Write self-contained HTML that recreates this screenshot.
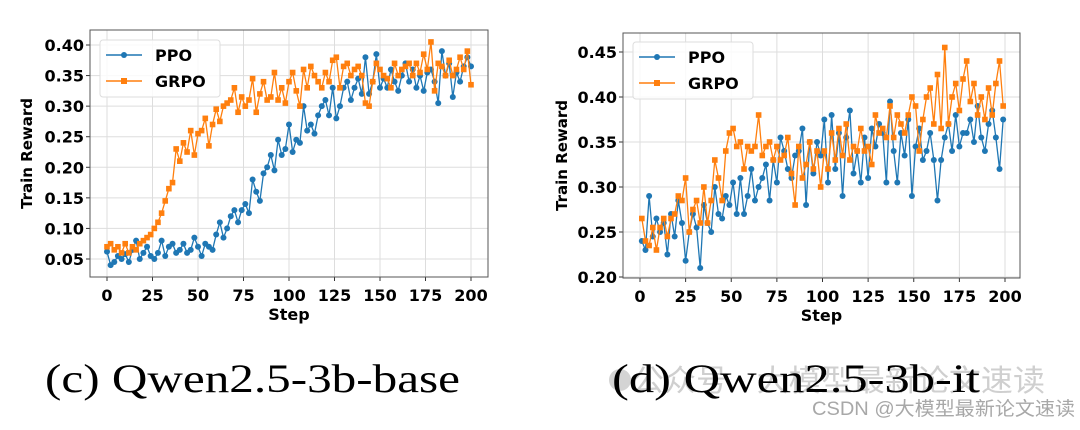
<!DOCTYPE html>
<html><head><meta charset="utf-8"><style>
body{margin:0;background:#fff;width:1080px;height:425px;overflow:hidden}
svg text{font-family:"DejaVu Sans","Liberation Sans",sans-serif}
</style></head><body>
<svg id="fig" width="1080" height="425" xmlns="http://www.w3.org/2000/svg">
<text x="45" y="392" font-size="40" textLength="415" lengthAdjust="spacingAndGlyphs" style="font-family:'Liberation Serif',serif">(c) Qwen2.5-3b-base</text>
<g>
<circle cx="620" cy="380" r="11" fill="#d4d4d4"/>
<text x="632" y="391" font-size="30" fill="#cfcfcf" textLength="413" lengthAdjust="spacingAndGlyphs" style="font-family:'Liberation Sans','Noto Sans CJK SC',sans-serif">公众号 · 大模型最新论文速读</text>
</g>
<text x="612" y="392" font-size="40" textLength="368" lengthAdjust="spacingAndGlyphs" style="font-family:'Liberation Serif',serif">(d) Qwen2.5-3b-it</text>
<text x="812" y="415" font-size="19" fill="#a8a8a8" textLength="263" lengthAdjust="spacingAndGlyphs" style="font-family:'Liberation Sans','Noto Sans CJK SC',sans-serif">CSDN @大模型最新论文速读</text>
</svg>
<script>
const stepsL = [0,2,4,6,8,10,12,14,16,18,20,22,24,26,28,30,32,34,36,38,40,42,44,46,48,50,52,54,56,58,60,62,64,66,68,70,72,74,76,78,80,82,84,86,88,90,92,94,96,98,100,102,104,106,108,110,112,114,116,118,120,122,124,126,128,130,132,134,136,138,140,142,144,146,148,150,152,154,156,158,160,162,164,166,168,170,172,174,176,178,180,182,184,186,188,190,192,194,196,198,200];
const ppoL = [0.062,0.04,0.045,0.055,0.05,0.058,0.045,0.065,0.08,0.05,0.06,0.07,0.055,0.05,0.06,0.08,0.055,0.07,0.075,0.06,0.065,0.075,0.06,0.065,0.085,0.07,0.055,0.075,0.07,0.065,0.09,0.11,0.085,0.1,0.12,0.13,0.11,0.13,0.14,0.125,0.18,0.16,0.145,0.19,0.2,0.22,0.195,0.245,0.22,0.23,0.27,0.225,0.245,0.24,0.3,0.26,0.27,0.255,0.285,0.3,0.31,0.285,0.33,0.28,0.3,0.33,0.34,0.31,0.33,0.345,0.32,0.38,0.32,0.34,0.385,0.33,0.345,0.33,0.36,0.34,0.325,0.35,0.37,0.34,0.36,0.33,0.35,0.325,0.355,0.36,0.34,0.305,0.39,0.35,0.37,0.315,0.355,0.34,0.365,0.38,0.365];
const grpoL = [0.07,0.075,0.065,0.07,0.06,0.075,0.06,0.07,0.065,0.075,0.08,0.085,0.09,0.1,0.11,0.125,0.145,0.165,0.175,0.23,0.21,0.24,0.225,0.26,0.22,0.255,0.26,0.28,0.235,0.27,0.295,0.275,0.3,0.305,0.31,0.33,0.29,0.315,0.3,0.31,0.345,0.29,0.32,0.34,0.31,0.315,0.355,0.31,0.33,0.305,0.34,0.355,0.325,0.3,0.36,0.33,0.365,0.35,0.34,0.33,0.355,0.34,0.375,0.38,0.33,0.365,0.37,0.35,0.36,0.365,0.35,0.305,0.3,0.34,0.37,0.36,0.35,0.345,0.33,0.37,0.35,0.36,0.365,0.37,0.35,0.37,0.355,0.385,0.36,0.405,0.325,0.37,0.365,0.35,0.375,0.35,0.36,0.38,0.36,0.39,0.335];
const stepsR = [1,3,5,7,9,11,13,15,17,19,21,23,25,27,29,31,33,35,37,39,41,43,45,47,49,51,53,55,57,59,61,63,65,67,69,71,73,75,77,79,81,83,85,87,89,91,93,95,97,99,101,103,105,107,109,111,113,115,117,119,121,123,125,127,129,131,133,135,137,139,141,143,145,147,149,151,153,155,157,159,161,163,165,167,169,171,173,175,177,179,181,183,185,187,189,191,193,195,197,199];
const ppoR = [0.24,0.23,0.29,0.245,0.265,0.25,0.26,0.225,0.27,0.245,0.285,0.26,0.218,0.25,0.27,0.255,0.21,0.28,0.26,0.25,0.3,0.27,0.265,0.29,0.28,0.305,0.27,0.31,0.27,0.29,0.32,0.285,0.3,0.31,0.325,0.285,0.33,0.305,0.355,0.34,0.32,0.31,0.335,0.34,0.365,0.28,0.35,0.315,0.35,0.335,0.375,0.305,0.38,0.32,0.36,0.29,0.355,0.385,0.315,0.34,0.305,0.355,0.31,0.365,0.345,0.37,0.36,0.305,0.395,0.34,0.305,0.36,0.335,0.375,0.29,0.345,0.365,0.33,0.34,0.36,0.33,0.285,0.33,0.355,0.37,0.34,0.38,0.345,0.36,0.36,0.375,0.35,0.39,0.355,0.34,0.37,0.385,0.355,0.32,0.375];
const grpoR = [0.265,0.24,0.235,0.255,0.23,0.255,0.265,0.245,0.265,0.27,0.29,0.285,0.31,0.25,0.275,0.285,0.26,0.3,0.26,0.285,0.33,0.31,0.285,0.34,0.36,0.365,0.345,0.35,0.32,0.345,0.34,0.345,0.38,0.335,0.345,0.35,0.33,0.345,0.33,0.335,0.355,0.315,0.28,0.345,0.31,0.325,0.35,0.32,0.34,0.3,0.34,0.32,0.36,0.33,0.365,0.335,0.37,0.33,0.345,0.34,0.365,0.34,0.345,0.325,0.38,0.36,0.365,0.355,0.39,0.355,0.38,0.37,0.36,0.38,0.4,0.39,0.34,0.375,0.4,0.41,0.37,0.425,0.365,0.455,0.37,0.4,0.415,0.385,0.42,0.44,0.395,0.415,0.38,0.4,0.375,0.41,0.38,0.415,0.44,0.39];
const xTicks = [0,25,50,75,100,125,150,175,200];
const yTicksL = [0.05,0.10,0.15,0.20,0.25,0.30,0.35,0.40];
const yTicksR = [0.20,0.25,0.30,0.35,0.40,0.45];

const NS="http://www.w3.org/2000/svg";
const svg=document.getElementById('fig');
function mk(tag,attrs,parent){const e=document.createElementNS(NS,tag);for(const k in attrs)e.setAttribute(k,attrs[k]);(parent||svg).appendChild(e);return e;}
const BLUE="#1f77b4", ORANGE="#ff7f0e";

function chart(cfg){
  const g=mk('g',{});
  
  
  const X=v=>cfg.x0+(v-0)/200*(cfg.x200-cfg.x0);
  const Y=v=>cfg.yA+(v-cfg.vA)/(cfg.vB-cfg.vA)*(cfg.yB-cfg.yA);
  mk('rect',{x:cfg.L,y:cfg.T,width:cfg.R-cfg.L,height:cfg.B-cfg.T,fill:'#fff'},g);
  for(const t of xTicks){
    const gl=mk('line',{x1:X(t),x2:X(t),y1:cfg.T,y2:cfg.B,stroke:'#ddd','stroke-width':1},g);
    
    
    mk('line',{x1:X(t),x2:X(t),y1:cfg.B,y2:cfg.B+4,stroke:'#333'},g);
    const tx=mk('text',{x:X(t),y:cfg.B+24,'text-anchor':'middle','font-size':16,'font-weight':'bold'},g);
    tx.textContent=t;
    
    
  }
  for(const t of cfg.yTicks){
    const gl=mk('line',{x1:cfg.L,x2:cfg.R,y1:Y(t),y2:Y(t),stroke:'#ddd','stroke-width':1},g);
    
    
    mk('line',{x1:cfg.L-4,x2:cfg.L,y1:Y(t),y2:Y(t),stroke:'#333'},g);
    const tx=mk('text',{x:cfg.L-6,y:Y(t)+6,'text-anchor':'end','font-size':16,'font-weight':'bold'},g);
    tx.textContent=t.toFixed(2);
    
    
  }
  function series(xs,ys,color,sq,nm){
    const sg=mk('g',{},g);
    
    
    mk('polyline',{points:xs.map((s,i)=>X(s)+','+Y(ys[i])).join(' '),fill:'none',stroke:color,'stroke-width':1.3},sg);
    xs.forEach((s,i)=>{
      let m;
      if(sq)m=mk('rect',{x:X(s)-2.8,y:Y(ys[i])-2.8,width:5.6,height:5.6,fill:color},sg);
      else m=mk('circle',{cx:X(s),cy:Y(ys[i]),r:3,fill:color},sg);
      
      
    });
  }
  series(cfg.sx,cfg.ppo,BLUE,false,'ppo-series');
  series(cfg.sx,cfg.grpo,ORANGE,true,'grpo-series');
  mk('rect',{x:cfg.L,y:cfg.T,width:cfg.R-cfg.L,height:cfg.B-cfg.T,fill:'none',stroke:'#555','stroke-width':1},g);
  const lg=mk('g',{},g);
  
  
  mk('rect',{x:cfg.lx,y:cfg.ly,width:120,height:57,rx:3,fill:'#fff','fill-opacity':0.85,stroke:'#ddd'},lg);
  [[BLUE,'PPO',false],[ORANGE,'GRPO',true]].forEach((e,i)=>{
    const yy=cfg.ly+15+i*26;
    mk('line',{x1:cfg.lx+6,x2:cfg.lx+42,y1:yy,y2:yy,stroke:e[0],'stroke-width':1.5},lg);
    if(e[2])mk('rect',{x:cfg.lx+21,y:yy-3,width:6,height:6,fill:e[0]},lg);
    else mk('circle',{cx:cfg.lx+24,cy:yy,r:3,fill:e[0]},lg);
    const t=mk('text',{x:cfg.lx+55,y:yy+6,'font-size':16,'font-weight':'bold'},lg);
    t.textContent=e[1];
    
    
  });
  const xl=mk('text',{x:(cfg.L+cfg.R)/2,y:cfg.B+43,'text-anchor':'middle','font-size':16,'font-weight':'bold'},g);
  xl.textContent='Step';
  
  
  const cy=(cfg.T+cfg.B)/2;
  const yl=mk('text',{x:cfg.ylx,y:cy,'text-anchor':'middle','font-size':15,'font-weight':'bold',transform:`rotate(-90 ${cfg.ylx} ${cy})`},g);
  yl.textContent='Train Reward';
  
  
}
chart({name:'chart-qwen-base',L:90,R:488,T:30,B:277,x0:107,x200:471,vA:0.40,yA:45,vB:0.05,yB:259,yTicks:yTicksL,sx:stepsL,ppo:ppoL,grpo:grpoL,lx:100,ly:40,ylx:32});
chart({name:'chart-qwen-it',L:623,R:1020,T:33,B:278,x0:640,x200:1005,vA:0.45,yA:52,vB:0.20,yB:277,yTicks:yTicksR,sx:stepsR,ppo:ppoR,grpo:grpoR,lx:633,ly:42,ylx:567});
</script>
</body></html>
